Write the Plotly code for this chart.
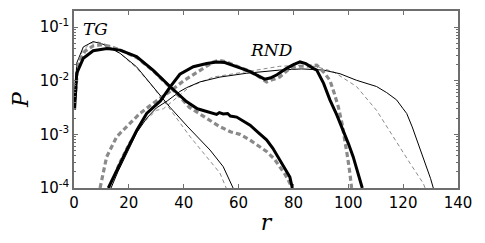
import math
import plotly.graph_objects as go

# ---- TG curves (left) ----
tg_thin_r = [0.2, 1, 3.4, 7, 10.6, 16.8, 22.8, 28.8, 35, 41.5, 49.6, 54.4, 58]
tg_thin_p = [3.0e-3, 0.0214, 0.0427, 0.0537, 0.0479, 0.0324, 0.0182, 7.8e-3, 3.2e-3, 1.38e-3, 5.1e-4, 2.5e-4, 1.0e-4]

tg_thindash_r = [0.3, 1, 3, 6, 9, 12, 17, 23, 29, 35, 42.3, 48.4, 53.2, 55.5]
tg_thindash_p = [4.0e-3, 0.0158, 0.0355, 0.0501, 0.0525, 0.0468, 0.0316, 0.017, 7.4e-3, 2.95e-3, 9.1e-4, 3.8e-4, 1.9e-4, 1.0e-4]

tg_thick_r = [0.2, 1, 3.4, 7, 12, 16.8, 22.8, 28.8, 35, 41, 45, 49.6, 52, 53, 54.4, 56, 57, 59.3, 62, 64.2, 67, 70.2, 72.5, 75, 77, 78.7, 79.6]
tg_thick_p = [2.9e-3, 0.0138, 0.0263, 0.0363, 0.0398, 0.0372, 0.0282, 0.0158, 7.8e-3, 4.1e-3, 3.0e-3, 2.6e-3, 2.35e-3, 2.55e-3, 2.4e-3, 2.45e-3, 2.2e-3, 2.1e-3, 1.7e-3, 1.48e-3, 1.1e-3, 7.9e-4, 5.5e-4, 3.3e-4, 2.2e-4, 1.6e-4, 1.0e-4]

tg_thickdash_r = [0.3, 1.6, 4, 7, 10, 13, 17, 23, 29, 35, 38.6, 42, 46, 49.6, 53, 57, 60.5, 64.2, 67, 70.2, 73, 75, 77, 78.7, 79.3]
tg_thickdash_p = [4.5e-3, 0.0224, 0.0355, 0.0447, 0.0468, 0.0437, 0.0372, 0.0269, 0.0151, 7.6e-3, 5.0e-3, 3.2e-3, 2.4e-3, 1.82e-3, 1.41e-3, 1.12e-3, 1.0e-3, 7.8e-4, 6.3e-4, 4.8e-4, 3.5e-4, 2.5e-4, 1.78e-4, 1.23e-4, 1.0e-4]

# ---- RND curves (right) ----
rnd_thick_r = [12.5, 15.6, 19.2, 22.9, 26.5, 31.5, 35, 38.6, 43.5, 48.4, 52, 55, 58.1, 61, 64.2, 67, 69.5, 71.5, 74, 77.5, 80, 82.4, 84.5, 87.2, 88.5, 91, 93.3, 95.8, 98.2, 100, 101.8, 103.5, 105.1]
rnd_thick_p = [1.0e-4, 2.2e-4, 5.1e-4, 1.2e-3, 2.45e-3, 4.2e-3, 7.6e-3, 0.0132, 0.0182, 0.0209, 0.0224, 0.0219, 0.0195, 0.017, 0.0148, 0.0123, 0.0107, 0.0112, 0.0129, 0.017, 0.02, 0.0224, 0.0209, 0.017, 0.0158, 8.9e-3, 4.4e-3, 2.3e-3, 1.2e-3, 6.8e-4, 3.8e-4, 2.0e-4, 1.0e-4]

rnd_thickdash_r = [9.5, 11.9, 15.6, 19.2, 24, 28.9, 35, 40, 45.9, 50.8, 53, 55.7, 59, 63, 66.5, 70.2, 72.5, 75, 78.7, 82, 85, 88.5, 91, 93.3, 95, 96.4, 97.7, 98.8, 99.8, 100.6, 101.2]
rnd_thickdash_p = [1.0e-4, 3.8e-4, 9.1e-4, 1.38e-3, 2.45e-3, 3.8e-3, 6.3e-3, 0.01, 0.0158, 0.0224, 0.024, 0.0224, 0.019, 0.0158, 0.0128, 9.5e-3, 0.0105, 0.0117, 0.017, 0.0186, 0.0186, 0.0195, 0.0145, 0.0102, 5.6e-3, 3.2e-3, 1.6e-3, 7.8e-4, 3.6e-4, 1.86e-4, 1.0e-4]

rnd_thin_r = [13.5, 16, 19.5, 23, 26.5, 30, 34, 38.6, 41, 45.9, 53.2, 63, 75, 83, 90.9, 97, 103, 110.3, 114, 117.6, 120, 121.3, 123.3, 125, 126.8, 128.6, 130, 131]
rnd_thin_p = [1.0e-4, 2.0e-4, 4.7e-4, 1.1e-3, 2.0e-3, 3.1e-3, 4.2e-3, 6.3e-3, 7.4e-3, 9.5e-3, 0.0117, 0.0138, 0.0158, 0.0166, 0.0158, 0.0135, 0.0102, 7.8e-3, 6.0e-3, 4.4e-3, 3.0e-3, 2.45e-3, 1.38e-3, 7.8e-4, 4.5e-4, 2.5e-4, 1.5e-4, 1.0e-4]

rnd_thindash_r = [13, 16, 20, 25, 30, 32.6, 38.6, 42.3, 50.8, 63, 75, 84.8, 88.5, 94.5, 103, 110.3, 116.3, 122.5, 127.3, 128]
rnd_thindash_p = [1.0e-4, 2.8e-4, 7.1e-4, 1.6e-3, 2.8e-3, 3.0e-3, 5.4e-3, 7.8e-3, 0.0117, 0.0148, 0.0186, 0.0195, 0.0182, 0.0148, 7.8e-3, 2.8e-3, 9.1e-4, 2.9e-4, 1.23e-4, 1.0e-4]

x_ticks = [0, 20, 40, 60, 80, 100, 120, 140]
y_ticks = [1e-4, 1e-3, 1e-2, 1e-1]
y_ticktext = ["10<sup>-4</sup>", "10<sup>-3</sup>", "10<sup>-2</sup>", "10<sup>-1</sup>"]

labels = ["TG", "RND"]
label_r = [8, 72]
label_p = [0.091, 0.037]

GRAY = "#8a8a8a"
FRAME = "#6e6e6e"
styles = {
    "thin": dict(color="black", width=1),
    "thindash": dict(color=GRAY, width=1, dash="4px,3px"),
    "thick": dict(color="black", width=3),
    "thickdash": dict(color=GRAY, width=3.2, dash="5px,3px"),
}

fig = go.Figure()
series = [
    (rnd_thindash_r, rnd_thindash_p, "thindash"),
    (tg_thindash_r, tg_thindash_p, "thindash"),
    (rnd_thin_r, rnd_thin_p, "thin"),
    (tg_thin_r, tg_thin_p, "thin"),
    (rnd_thickdash_r, rnd_thickdash_p, "thickdash"),
    (tg_thickdash_r, tg_thickdash_p, "thickdash"),
    (rnd_thick_r, rnd_thick_p, "thick"),
    (tg_thick_r, tg_thick_p, "thick"),
]
for r, p, st in series:
    fig.add_trace(go.Scatter(x=r, y=p, mode="lines", line=styles[st], showlegend=False,
                             hoverinfo="skip"))

# annotations on a log axis are placed in log10 units
for t, xr, yp in zip(labels, label_r, label_p):
    fig.add_annotation(x=xr, y=math.log10(yp), yref="y", xref="x", text=f"<i>{t}</i>",
                       showarrow=False,
                       font=dict(family="DejaVu Serif", size=17, color="black"))

axis_common = dict(
    showline=True, linecolor=FRAME, linewidth=1.5, mirror="allticks",
    ticks="inside", tickcolor=FRAME, ticklen=4, tickwidth=1,
    showgrid=False, zeroline=False, automargin=False,
    tickfont=dict(family="DejaVu Sans", size=15, color="black"),
)

# the page body has an 8px default margin, so the figure is 8px smaller than the window
fig.update_layout(
    width=477, height=235,
    margin=dict(l=66, r=27, t=3, b=55),
    plot_bgcolor="white", paper_bgcolor="white",
    xaxis=dict(range=[0, 140], tickvals=x_ticks,
               title=dict(text="<i>r</i>", font=dict(family="DejaVu Serif", size=22, color="black"),
                          standoff=4),
               **axis_common),
    yaxis=dict(type="log", range=[-4, -0.7], tickvals=y_ticks, ticktext=y_ticktext,
               minor=dict(ticks="inside", ticklen=2, tickcolor=FRAME, dtick="D1"),
               title=dict(text="<i>P</i>", font=dict(family="DejaVu Serif", size=22, color="black"),
                          standoff=6),
               **axis_common),
)

fig.write_html("out.html")
